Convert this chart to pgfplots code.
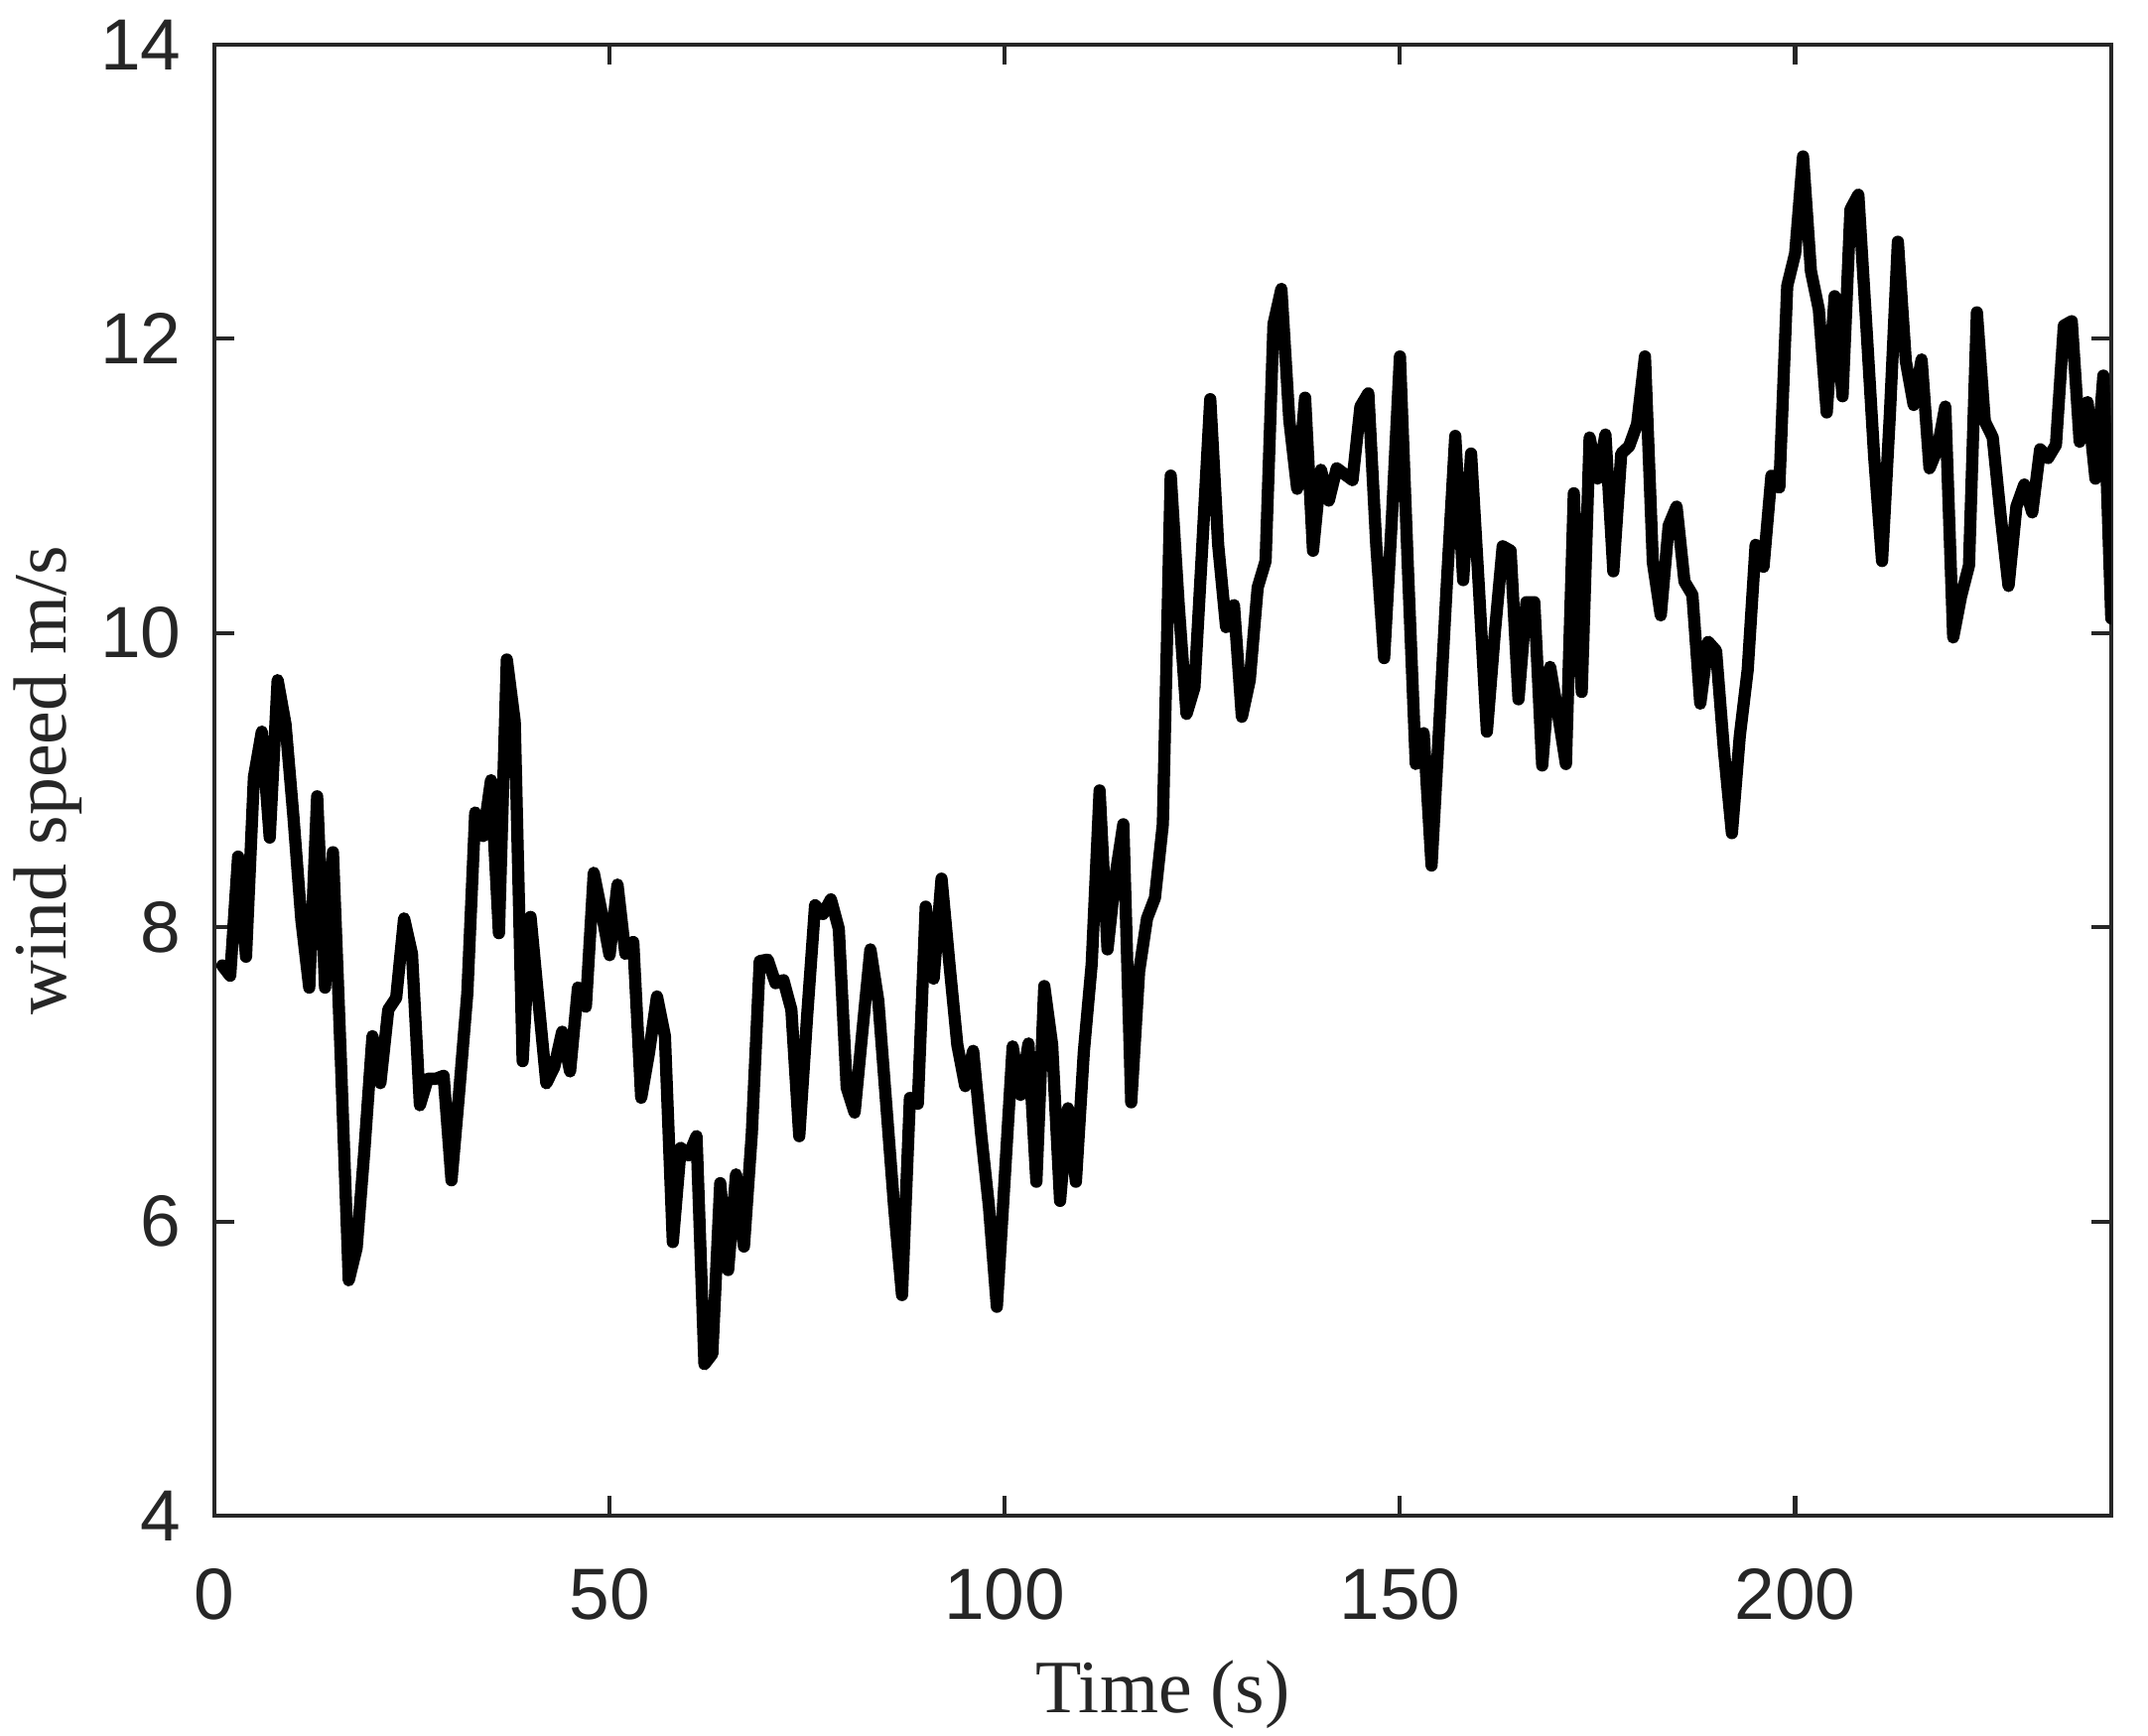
\documentclass[border=0pt]{standalone}
\usepackage{fontspec}
\setmainfont{Liberation Sans}
\newfontfamily\labelfont{Liberation Serif}
\usepackage{pgfplots}
\pgfplotsset{compat=1.18}

\definecolor{axgray}{HTML}{262626}

\begin{document}
\begin{tikzpicture}
\begin{axis}[
	at={(0,0)}, anchor=south west,
	scale only axis,
	width=9.555cm, height=7.41cm,
	xmin=0, xmax=240,
	ymin=4, ymax=14,
	xtick={0,50,100,150,200},
	ytick={4,6,8,10,12,14},
	tick align=inside,
	major tick length=0.1cm,
	axis line style={axgray, line width=0.57pt},
	every tick/.style={axgray, line width=0.57pt},
	/pgf/number format/assume math mode=true,
	ticklabel style={font=\fontsize{10.4}{12}\selectfont, text=axgray},
	xticklabel style={inner sep=0pt, anchor=north, yshift=-0.26cm},
	yticklabel style={inner sep=0pt, anchor=east, xshift=-0.16cm},
	xlabel={Time (s)},
	ylabel={wind speed m/s},
	label style={font=\labelfont\fontsize{10.8}{12}\selectfont, text=axgray},
	xlabel style={at={(axis description cs:0.5,-0.1336)}, anchor=base},
	ylabel style={at={(axis description cs:-0.078,0.5)}, anchor=base, rotate=0},
	]

	% wind speed, one sample per second
	\addplot[black, line width=1.75pt, line join=round, line cap=round] coordinates {
	(1,7.74)(2,7.67)(3,8.48)(4,7.80)(5,9.02)(6,9.33)(7,8.61)(8,9.68)(9,9.38)(10,8.75)
	(11,8.05)(12,7.59)(13,8.89)(14,7.59)(15,8.51)(16,7.10)(17,5.60)(18,5.82)(19,6.50)(20,7.26)
	(21,6.94)(22,7.44)(23,7.52)(24,8.06)(25,7.82)(26,6.79)(27,6.97)(28,6.97)(29,6.99)(30,6.28)
	(31,6.90)(32,7.55)(33,8.78)(34,8.62)(35,9.00)(36,7.96)(37,9.82)(38,9.40)(39,7.09)(40,8.07)
	(41,7.50)(42,6.94)(43,7.05)(44,7.29)(45,7.02)(46,7.59)(47,7.46)(48,8.37)(49,8.10)(50,7.81)
	(51,8.29)(52,7.82)(53,7.90)(54,6.84)(55,7.15)(56,7.53)(57,7.26)(58,5.86)(59,6.50)(60,6.45)
	(61,6.58)(62,5.03)(63,5.10)(64,6.26)(65,5.67)(66,6.32)(67,5.83)(68,6.60)(69,7.77)(70,7.78)
	(71,7.62)(72,7.64)(73,7.44)(74,6.58)(75,7.40)(76,8.15)(77,8.09)(78,8.19)(79,7.99)(80,6.91)
	(81,6.74)(82,7.30)(83,7.85)(84,7.50)(85,6.80)(86,6.10)(87,5.50)(88,6.84)(89,6.80)(90,8.14)
	(91,7.65)(92,8.33)(93,7.75)(94,7.20)(95,6.92)(96,7.16)(97,6.60)(98,6.10)(99,5.42)(100,6.30)
	(101,7.19)(102,6.86)(103,7.21)(104,6.27)(105,7.60)(106,7.20)(107,6.14)(108,6.77)(109,6.27)(110,7.15)
	(111,7.75)(112,8.93)(113,7.85)(114,8.35)(115,8.70)(116,6.81)(117,7.70)(118,8.06)(119,8.20)(120,8.70)
	(121,11.07)(122,10.20)(123,9.45)(124,9.63)(125,10.60)(126,11.59)(127,10.60)(128,10.04)(129,10.19)(130,9.43)
	(131,9.68)(132,10.31)(133,10.49)(134,12.10)(135,12.34)(136,11.45)(137,10.98)(138,11.60)(139,10.56)(140,11.11)
	(141,10.90)(142,11.12)(143,11.08)(144,11.04)(145,11.54)(146,11.63)(147,10.60)(148,9.83)(149,10.80)(150,11.88)
	(151,10.45)(152,9.11)(153,9.32)(154,8.42)(155,9.40)(156,10.40)(157,11.34)(158,10.36)(159,11.22)(160,10.30)
	(161,9.33)(162,10.00)(163,10.59)(164,10.56)(165,9.55)(166,10.21)(167,10.21)(168,9.10)(169,9.77)(170,9.45)
	(171,9.11)(172,10.95)(173,9.60)(174,11.33)(175,11.05)(176,11.35)(177,10.42)(178,11.22)(179,11.27)(180,11.42)
	(181,11.88)(182,10.48)(183,10.12)(184,10.73)(185,10.86)(186,10.35)(187,10.26)(188,9.52)(189,9.94)(190,9.88)
	(191,9.20)(192,8.64)(193,9.30)(194,9.75)(195,10.60)(196,10.45)(197,11.07)(198,10.99)(199,12.36)(200,12.58)
	(201,13.24)(202,12.46)(203,12.20)(204,11.50)(205,12.29)(206,11.61)(207,12.88)(208,12.98)(209,12.10)(210,11.20)
	(211,10.49)(212,11.50)(213,12.66)(214,11.85)(215,11.55)(216,11.86)(217,11.12)(218,11.25)(219,11.54)(220,9.97)
	(221,10.25)(222,10.46)(223,12.18)(224,11.44)(225,11.33)(226,10.80)(227,10.32)(228,10.86)(229,11.01)(230,10.82)
	(231,11.25)(232,11.19)(233,11.28)(234,12.09)(235,12.12)(236,11.30)(237,11.57)(238,11.05)(239,11.75)(240,10.10)
	};

\end{axis}
\pgfresetboundingbox
\path[use as bounding box] (-1.08,-1.105) rectangle (9.74,7.635);
\end{tikzpicture}
\end{document}
